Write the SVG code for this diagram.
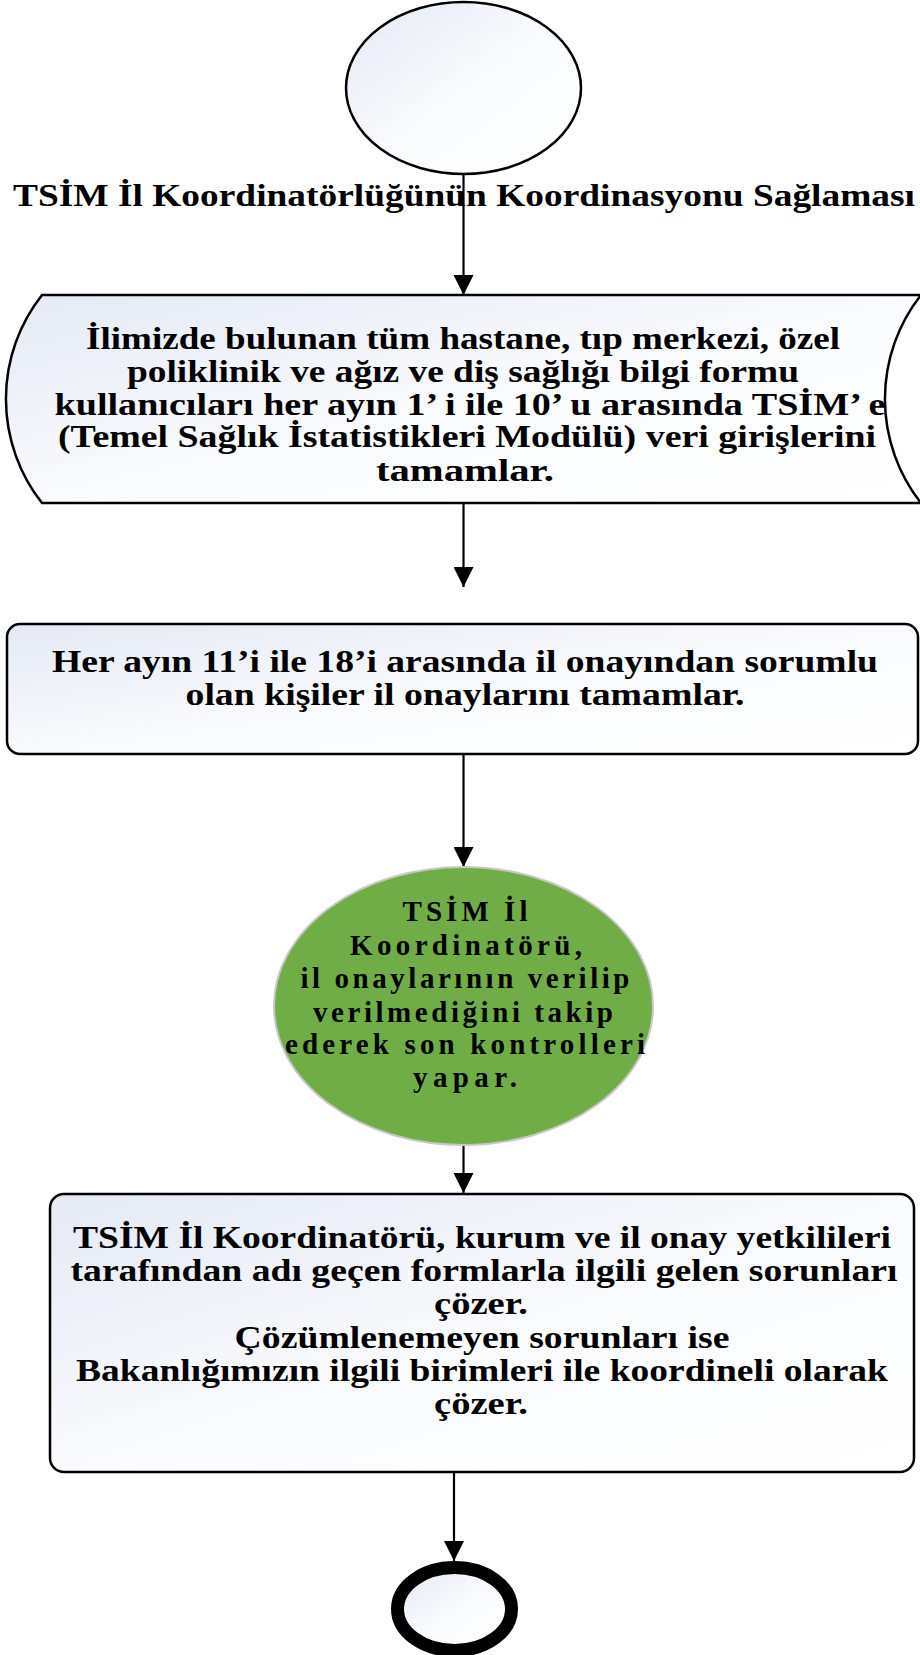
<svg xmlns="http://www.w3.org/2000/svg" width="920" height="1655" viewBox="0 0 920 1655">
<style>
.t{font-family:"Liberation Serif","Times New Roman",serif;font-weight:bold;font-size:31px;fill:#000;text-anchor:middle}
.g{font-size:29px}
.shape{stroke:#000;stroke-width:2.5;fill:url(#g)}
.conn{stroke:#000;stroke-width:2.2;fill:none}
</style>
<defs>
<linearGradient id="g" x1="0" y1="0" x2="1" y2="1">
<stop offset="0" stop-color="#e4e9f4"/>
<stop offset="0.55" stop-color="#fbfcfe"/>
<stop offset="1" stop-color="#ffffff"/>
</linearGradient>
<marker id="ah" markerUnits="userSpaceOnUse" markerWidth="22" markerHeight="20" refX="20" refY="10" orient="auto">
<path d="M0,0 L20,10 L0,20 Z" fill="#000"/>
</marker>
</defs>

<g id="connectors">
<line class="conn" x1="463.5" y1="174" x2="463.5" y2="295" marker-end="url(#ah)"/>
<line class="conn" x1="463.5" y1="503" x2="463.5" y2="587" marker-end="url(#ah)"/>
<line class="conn" x1="463.5" y1="754" x2="463.5" y2="867" marker-end="url(#ah)"/>
<line class="conn" x1="463.5" y1="1145" x2="463.5" y2="1193" marker-end="url(#ah)"/>
<line class="conn" x1="454" y1="1472" x2="454" y2="1561" marker-end="url(#ah)"/>
</g>

<g id="start">
<ellipse class="shape" cx="463.5" cy="88" rx="117.5" ry="86"/>
</g>

<g id="title">
<text class="t" x="464" y="206" textLength="902" lengthAdjust="spacingAndGlyphs">TSİM İl Koordinatörlüğünün Koordinasyonu Sağlaması</text>
</g>

<g id="data-entry">
<path class="shape" d="M42,295 L921,295 A168,168 0 0 0 921,503 L42,503 A168,168 0 0 1 42,295 Z"/>
<text class="t" x="463" y="349" textLength="754" lengthAdjust="spacingAndGlyphs">İlimizde bulunan tüm hastane, tıp merkezi, özel</text>
<text class="t" x="463" y="382" textLength="672" lengthAdjust="spacingAndGlyphs">poliklinik ve ağız ve diş sağlığı bilgi formu</text>
<text class="t" x="470" y="415" textLength="831" lengthAdjust="spacingAndGlyphs">kullanıcıları her ayın 1’ i ile 10’ u arasında TSİM’ e</text>
<text class="t" x="467" y="447" textLength="818" lengthAdjust="spacingAndGlyphs">(Temel Sağlık İstatistikleri Modülü) veri girişlerini</text>
<text class="t" x="465" y="481" textLength="178" lengthAdjust="spacingAndGlyphs">tamamlar.</text>
</g>

<g id="approval">
<rect class="shape" x="7" y="624" width="911" height="130" rx="13"/>
<text class="t" x="465" y="672" textLength="826" lengthAdjust="spacingAndGlyphs">Her ayın 11’i ile 18’i arasında il onayından sorumlu</text>
<text class="t" x="465" y="705" textLength="559" lengthAdjust="spacingAndGlyphs">olan kişiler il onaylarını tamamlar.</text>
</g>

<g id="control">
<ellipse cx="463.5" cy="1006" rx="189.5" ry="139" fill="#70ad47" stroke="#c8c8c8" stroke-width="2"/>
<text class="t g" x="465" y="921" textLength="125" lengthAdjust="spacing">TSİM İl</text>
<text class="t g" x="466" y="955" textLength="232" lengthAdjust="spacing">Koordinatörü,</text>
<text class="t g" x="465" y="988" textLength="329" lengthAdjust="spacing">il onaylarının verilip</text>
<text class="t g" x="463" y="1022" textLength="300" lengthAdjust="spacing">verilmediğini takip</text>
<text class="t g" x="465" y="1054" textLength="360" lengthAdjust="spacing">ederek son kontrolleri</text>
<text class="t g" x="465" y="1087" textLength="104" lengthAdjust="spacing">yapar.</text>
</g>

<g id="resolve">
<rect class="shape" x="50" y="1194" width="864" height="278" rx="14"/>
<text class="t" x="482" y="1248" textLength="818" lengthAdjust="spacingAndGlyphs">TSİM İl Koordinatörü, kurum ve il onay yetkilileri</text>
<text class="t" x="484" y="1281" textLength="827" lengthAdjust="spacingAndGlyphs">tarafından adı geçen formlarla ilgili gelen sorunları</text>
<text class="t" x="481" y="1314" textLength="94" lengthAdjust="spacingAndGlyphs">çözer.</text>
<text class="t" x="482" y="1348" textLength="495" lengthAdjust="spacingAndGlyphs">Çözümlenemeyen sorunları ise</text>
<text class="t" x="482" y="1381" textLength="812" lengthAdjust="spacingAndGlyphs">Bakanlığımızın ilgili birimleri ile koordineli olarak</text>
<text class="t" x="481" y="1414" textLength="94" lengthAdjust="spacingAndGlyphs">çözer.</text>
</g>

<g id="end">
<ellipse cx="454.5" cy="1609" rx="57" ry="41.5" fill="url(#g)" stroke="#000" stroke-width="13"/>
</g>
</svg>
